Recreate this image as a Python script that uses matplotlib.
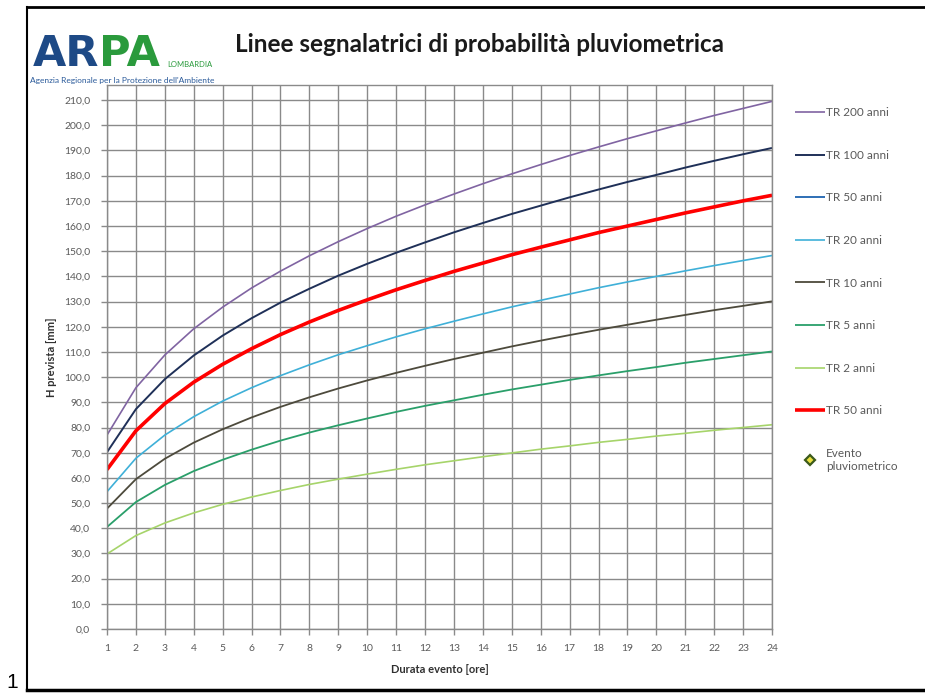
import matplotlib
matplotlib.use("Agg")
import matplotlib.pyplot as plt
from matplotlib.ticker import FuncFormatter, MultipleLocator
from matplotlib.lines import Line2D

# ---------------- data ----------------
hours = list(range(1, 25))

tr200 = [77.0, 95.8, 108.8, 119.2, 127.8, 135.4, 142.1, 148.2, 153.8, 159.0, 163.9, 168.4,
         172.7, 176.8, 180.7, 184.4, 188.0, 191.4, 194.7, 197.8, 200.9, 203.9, 206.7, 209.5]
tr100 = [70.2, 87.3, 99.2, 108.6, 116.5, 123.4, 129.6, 135.1, 140.3, 145.0, 149.4, 153.5,
         157.5, 161.2, 164.8, 168.1, 171.4, 174.5, 177.5, 180.3, 183.2, 185.9, 188.5, 191.0]
tr50 = [63.3, 78.7, 89.5, 98.0, 105.1, 111.3, 116.9, 121.9, 126.5, 130.7, 134.7, 138.4,
        142.0, 145.3, 148.6, 151.6, 154.5, 157.4, 160.0, 162.6, 165.2, 167.6, 170.0, 172.2]
tr20 = [54.5, 67.8, 77.0, 84.3, 90.5, 95.8, 100.6, 104.9, 108.9, 112.5, 116.0, 119.2,
        122.2, 125.1, 127.9, 130.5, 133.0, 135.5, 137.8, 140.0, 142.2, 144.3, 146.3, 148.3]
tr10 = [47.8, 59.5, 67.6, 74.0, 79.3, 84.0, 88.2, 92.0, 95.5, 98.7, 101.7, 104.5,
        107.2, 109.7, 112.2, 114.5, 116.7, 118.8, 120.8, 122.8, 124.7, 126.6, 128.3, 130.1]
tr5 = [40.5, 50.4, 57.2, 62.7, 67.2, 71.2, 74.8, 78.0, 80.9, 83.6, 86.2, 88.6,
       90.8, 93.0, 95.1, 97.0, 98.9, 100.7, 102.4, 104.0, 105.7, 107.2, 108.7, 110.2]
tr2 = [29.8, 37.1, 42.1, 46.1, 49.5, 52.4, 55.0, 57.4, 59.5, 61.5, 63.4, 65.2,
       66.8, 68.4, 69.9, 71.4, 72.7, 74.1, 75.3, 76.6, 77.7, 78.9, 80.0, 81.1]
evento_x = []
evento_y = []

series_labels = ["TR 200 anni", "TR 100 anni", "TR 50 anni", "TR 20 anni",
                 "TR 10 anni", "TR 5 anni", "TR 2 anni", "TR 50 anni"]
series_colors = ["#8064a2", "#1f3058", "#2e6fb5", "#3fb0d8",
                 "#4d4a3c", "#2a9f6a", "#a6d46a", "#ff0000"]
series_values = [tr200, tr100, tr50, tr20, tr10, tr5, tr2, tr50]
series_widths = [1.2, 1.4, 1.4, 1.2, 1.3, 1.3, 1.2, 2.6]

title = "Linee segnalatrici di probabilità pluviometrica"
xlabel = "Durata evento [ore]"
ylabel = "H prevista [mm]"

W, H = 925, 693
fig = plt.figure(figsize=(W / 100, H / 100), dpi=100)
plt.rcParams['font.family'] = ['Lato', 'DejaVu Sans']

def fx(px):
    return px / W

def fy(py):
    return 1 - py / H

ax = fig.add_axes([fx(107), fy(629), fx(772) - fx(107), fy(85) - fy(629)])

handles = []
for vals, lab, col, lw in zip(series_values, series_labels, series_colors, series_widths):
    h, = ax.plot(hours, vals, color=col, lw=lw, label=lab, solid_capstyle='butt')
    handles.append(h)
ev, = ax.plot(evento_x, evento_y, ls='none', marker='D', ms=5,
              markerfacecolor='#e8e040', markeredgecolor='#3b5a1a', markeredgewidth=1.6,
              label="Evento\npluviometrico")
handles.append(ev)

ax.set_xlim(1, 24)
ax.set_ylim(0, 216)
ax.set_xticks(hours)
ax.yaxis.set_major_locator(MultipleLocator(10))
ax.yaxis.set_major_formatter(FuncFormatter(lambda v, p: f"{v:.1f}".replace('.', ',')))
ax.grid(True, color='#8a8a8a', lw=1.0)
ax.set_axisbelow(True)
for s in ax.spines.values():
    s.set_color('#8a8a8a')
    s.set_linewidth(1.0)
ax.tick_params(axis='both', colors='#8a8a8a', labelcolor='#5a5a5a', labelsize=7.5,
               length=4, width=1.0)
ax.tick_params(axis='y', pad=8)
ax.tick_params(axis='x', pad=7)
ax.set_xlabel(xlabel, fontsize=8, fontweight='bold', color='#303030', labelpad=8)
ax.set_ylabel(ylabel, fontsize=8, fontweight='bold', color='#303030', labelpad=5)

fig.legend(handles=handles, loc='upper left', bbox_to_anchor=(fx(795), fy(107)),
           frameon=False, fontsize=8.5, handlelength=2.5, handletextpad=0.15,
           labelspacing=2.68, borderpad=0, borderaxespad=0, labelcolor='#5a5a5a')

# header
fig.text(fx(235), fy(45), title, fontsize=17.5, fontweight='bold', color='#1a1a1a',
         va='center', ha='left')
fig.text(fx(33), fy(66), "AR", fontsize=31, fontweight='heavy', color='#1e4a86',
         va='baseline', ha='left', family=['DejaVu Sans'])
fig.text(fx(99), fy(66), "PA", fontsize=31, fontweight='heavy', color='#2a9a3c',
         va='baseline', ha='left', family=['DejaVu Sans'])
fig.text(fx(167), fy(67), "LOMBARDIA", fontsize=5.5, color='#2a9a3c', va='baseline', ha='left')
fig.text(fx(30), fy(83), "Agenzia Regionale per la Protezione dell'Ambiente", fontsize=6,
         color='#2a5a9a', va='baseline', ha='left')

# outer frame and footnote number
fig.add_artist(Line2D([fx(27), fx(27)], [fy(7), fy(690)], color='black', lw=1.5,
                      transform=fig.transFigure))
fig.add_artist(Line2D([fx(27), 1], [fy(7), fy(7)], color='black', lw=2,
                      transform=fig.transFigure))
fig.add_artist(Line2D([fx(27), 1], [fy(690), fy(690)], color='black', lw=2.5,
                      transform=fig.transFigure))
fig.text(fx(6), fy(688), "1", fontsize=15, color='black', va='baseline', ha='left',
         family=['Liberation Sans'])

fig.savefig("out.png", dpi=100)
